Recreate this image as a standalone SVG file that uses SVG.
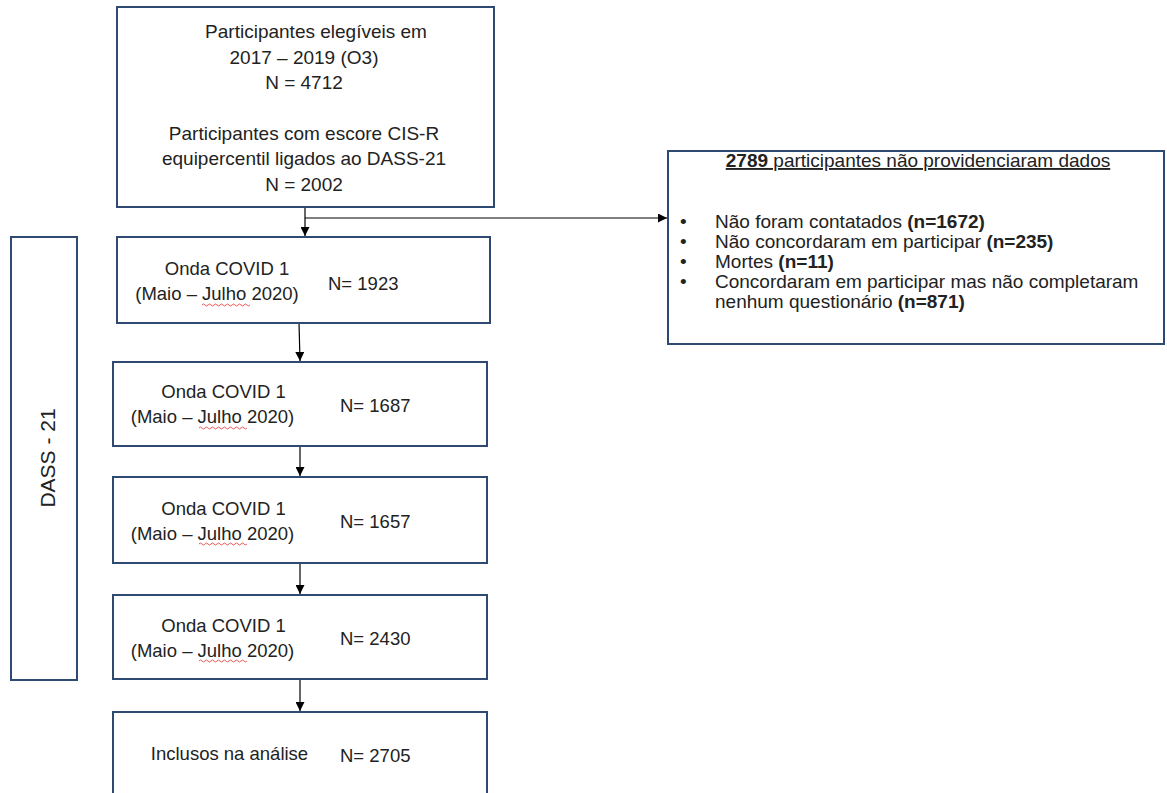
<svg xmlns="http://www.w3.org/2000/svg" width="1167" height="793" viewBox="0 0 1167 793">
<defs>
<style>
.box{fill:#ffffff;stroke:#2E4A72;stroke-width:2}
.t{font-family:"Liberation Sans",Arial,sans-serif;font-size:19px;fill:#222222}
.s{font-family:"Liberation Sans",Arial,sans-serif;font-size:18.5px;fill:#222222}
.m{text-anchor:middle}
.b{font-weight:bold}
.c{fill:none;stroke:#000000;stroke-width:1.2}
.sq{fill:none;stroke:#E03030;stroke-width:0.8}
</style>
<marker id="ah" viewBox="0 0 10 10" refX="10" refY="5" markerWidth="9" markerHeight="9" markerUnits="userSpaceOnUse" orient="auto">
<path d="M0,0 L10,5 L0,10 Z" fill="#000000"/>
</marker>
</defs>
<rect width="1167" height="793" fill="#ffffff"/>

<g id="connectors">
<path class="c" d="M305,207 L305,236" marker-end="url(#ah)"/>
<path class="c" d="M305,218 L667,218" marker-end="url(#ah)"/>
<path class="c" d="M299,323 L300,361" marker-end="url(#ah)"/>
<path class="c" d="M300,447 L300,476" marker-end="url(#ah)"/>
<path class="c" d="M300,563 L300,594" marker-end="url(#ah)"/>
<path class="c" d="M300,679 L300,711" marker-end="url(#ah)"/>
</g>

<g id="node-dass">
<rect class="box" x="11" y="237" width="66" height="443"/>
<text class="t m" transform="translate(55,458) rotate(-90)" style="font-size:21px">DASS - 21</text>
</g>

<g id="node-eligible">
<rect class="box" x="117" y="7" width="377" height="200"/>
<text class="t m" x="316" y="38">Participantes elegíveis em</text>
<text class="t m" x="304" y="64">2017 – 2019 (O3)</text>
<text class="t m" x="304" y="89">N = 4712</text>
<text class="t m" x="304" y="140">Participantes com escore CIS-R</text>
<text class="t m" x="304" y="165">equipercentil ligados ao DASS-21</text>
<text class="t m" x="304" y="191">N = 2002</text>
</g>

<g id="node-wave1">
<rect class="box" x="117" y="237" width="373" height="86"/>
<text class="s m" x="227" y="275">Onda COVID 1</text>
<text class="s m" x="217" y="300">(Maio – Julho 2020)</text>
<text class="s" x="328" y="290">N= 1923</text>
<path class="sq" d="M202,305 q1.5,-2 3,0 t3,0 t3,0 t3,0 t3,0 t3,0 t3,0 t3,0 t3,0 t3,0 t3,0 t3,0 t3,0 t3,0 t3,0 t3,0"/>
</g>

<g id="node-wave2">
<rect class="box" x="113" y="362" width="374" height="84"/>
<text class="s m" x="223.5" y="398">Onda COVID 1</text>
<text class="s m" x="212.5" y="423">(Maio – Julho 2020)</text>
<text class="s" x="340" y="412">N= 1687</text>
<path class="sq" d="M199,428 q1.5,-2 3,0 t3,0 t3,0 t3,0 t3,0 t3,0 t3,0 t3,0 t3,0 t3,0 t3,0 t3,0 t3,0 t3,0 t3,0 t3,0"/>
</g>

<g id="node-wave3">
<rect class="box" x="113" y="477" width="374" height="86"/>
<text class="s m" x="223.5" y="515">Onda COVID 1</text>
<text class="s m" x="212.5" y="540">(Maio – Julho 2020)</text>
<text class="s" x="340" y="528">N= 1657</text>
<path class="sq" d="M199,544 q1.5,-2 3,0 t3,0 t3,0 t3,0 t3,0 t3,0 t3,0 t3,0 t3,0 t3,0 t3,0 t3,0 t3,0 t3,0 t3,0 t3,0"/>
</g>

<g id="node-wave4">
<rect class="box" x="113" y="595" width="374" height="84"/>
<text class="s m" x="223.5" y="632">Onda COVID 1</text>
<text class="s m" x="212.5" y="657">(Maio – Julho 2020)</text>
<text class="s" x="340" y="645">N= 2430</text>
<path class="sq" d="M199,661 q1.5,-2 3,0 t3,0 t3,0 t3,0 t3,0 t3,0 t3,0 t3,0 t3,0 t3,0 t3,0 t3,0 t3,0 t3,0 t3,0 t3,0"/>
</g>

<g id="node-included">
<rect class="box" x="113" y="712" width="374" height="100"/>
<text class="s m" x="229.5" y="760">Inclusos na análise</text>
<text class="s" x="340" y="762">N= 2705</text>
</g>

<g id="node-excluded">
<rect class="box" x="668" y="151" width="496" height="193"/>
<text class="t m" x="918" y="167" text-decoration="underline"><tspan class="b">2789</tspan> participantes não providenciaram dados</text>
<g class="t">
<text x="680" y="228">•</text>
<text x="715" y="228">Não foram contatados <tspan class="b">(n=1672)</tspan></text>
<text x="680" y="248">•</text>
<text x="715" y="248">Não concordaram em participar <tspan class="b">(n=235)</tspan></text>
<text x="680" y="268">•</text>
<text x="715" y="268">Mortes <tspan class="b">(n=11)</tspan></text>
<text x="680" y="288">•</text>
<text x="715" y="288">Concordaram em participar mas não completaram</text>
<text x="715" y="308">nenhum questionário <tspan class="b">(n=871)</tspan></text>
</g>
</g>
</svg>
